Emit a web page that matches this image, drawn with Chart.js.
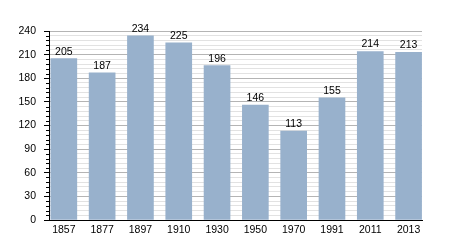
<!DOCTYPE html>
<html>
<head>
<meta charset="utf-8">
<script src="https://cdn.jsdelivr.net/npm/chart.js@4"></script>
<style>
html,body{margin:0;padding:0;background:#fff;}
#wrap{width:450px;height:250px;position:relative;}
</style>
</head>
<body>
<div id="wrap"><canvas id="c" width="450" height="250"></canvas></div>
<script>
const years = ['1857','1877','1897','1910','1930','1950','1970','1991','2011','2013'];
const population = [205,187,234,225,196,146,113,155,214,213];
const yMajorStep = 30;
const yMinorStep = 6;
const yMax = 240;

const FONT = "'Liberation Sans', Arial, sans-serif";

const valueLabels = {
  id: 'valueLabels',
  afterDatasetsDraw(chart) {
    const ctx = chart.ctx;
    const meta = chart.getDatasetMeta(0);
    ctx.save();
    ctx.font = "10.5px " + FONT;
    ctx.fillStyle = '#000';
    ctx.textAlign = 'center';
    ctx.textBaseline = 'alphabetic';
    meta.data.forEach((bar, i) => {
      ctx.fillText(String(population[i]), bar.x, bar.y - 4);
    });
    ctx.restore();
  }
};

const minorTicks = {
  id: 'minorTicks',
  afterDraw(chart) {
    const y = chart.scales.y;
    const ctx = chart.ctx;
    ctx.save();
    ctx.strokeStyle = '#000';
    ctx.lineWidth = 1;
    ctx.beginPath();
    for (let v = 0; v <= yMax; v += yMinorStep) {
      if (v % yMajorStep === 0) continue;
      const py = Math.round(y.getPixelForValue(v)) + 0.5;
      ctx.moveTo(y.right - 3, py);
      ctx.lineTo(y.right, py);
    }
    ctx.stroke();
    ctx.restore();
  }
};

new Chart(document.getElementById('c'), {
  type: 'bar',
  data: {
    datasets: [{
      data: population.map((v, i) => ({x: i, y: v})),
      backgroundColor: '#98b1cc',
      borderWidth: 0,
      barThickness: 26
    }]
  },
  options: {
    responsive: false,
    animation: false,
    events: [],
    layout: {padding: {top: 31, right: 28, left: 0, bottom: 0}},
    plugins: {legend: {display: false}, tooltip: {enabled: false}},
    scales: {
      x: {
        type: 'linear',
        offset: false,
        min: -0.387,
        max: 9.35,
        afterFit(s) { s.height = 30; },
        ticks: {
          stepSize: 1,
          includeBounds: false,
          autoSkip: false,
          maxRotation: 0,
          padding: 4,
          color: '#000',
          font: {family: FONT, size: 10.5},
          callback: (v) => (Number.isInteger(v) && years[v] !== undefined) ? years[v] : ''
        },
        grid: {display: true, offset: false, drawOnChartArea: false, drawTicks: false},
        border: {display: true, color: '#000', width: 1}
      },
      y: {
        min: 0,
        max: yMax,
        afterFit(s) { s.width = 49; },
        ticks: {
          stepSize: yMinorStep,
          autoSkip: false,
          padding: 8,
          color: '#000',
          font: {family: FONT, size: 10.5},
          callback: (v) => (v % yMajorStep === 0) ? String(v) : ''
        },
        grid: {
          color: (c) => (c.tick && c.tick.value % yMajorStep === 0) ? '#b4b4b4' : '#e2e2e2',
          tickColor: (c) => (c.tick && c.tick.value % yMajorStep === 0) ? '#000' : 'rgba(0,0,0,0)',
          tickLength: 5,
          lineWidth: 1
        },
        border: {display: true, color: '#000', width: 1}
      }
    }
  },
  plugins: [valueLabels, minorTicks]
});
</script>
</body>
</html>
